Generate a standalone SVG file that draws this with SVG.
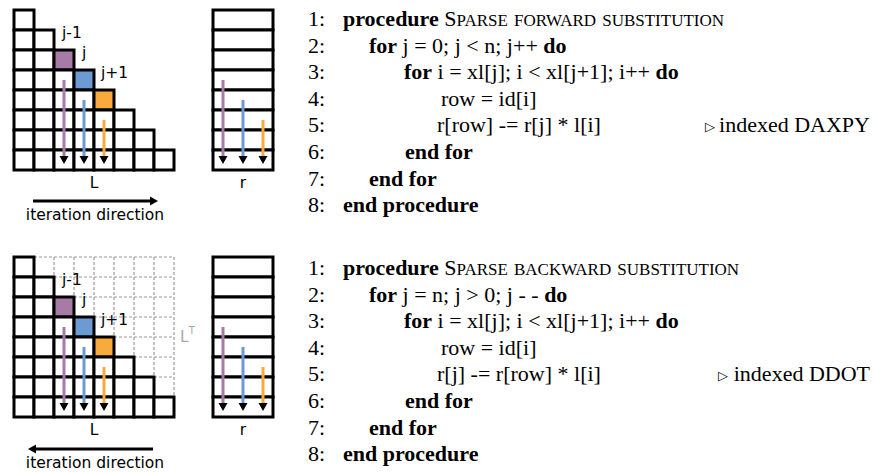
<svg xmlns="http://www.w3.org/2000/svg" width="875" height="473" viewBox="0 0 875 473">
<style>
.cell{fill:#fff;stroke:#000;stroke-width:3}
.pur{fill:#a67ba6}.blu{fill:#6b9bd2}.org{fill:#f8aa3c}
.dash{stroke:#9a9a9a;stroke-width:1.2;stroke-dasharray:3 2;fill:none}
.lbl{font-family:"DejaVu Sans",sans-serif;font-size:15.5px;fill:#000}
.alg{font-family:"Liberation Serif","Times New Roman",serif;font-size:22px;fill:#000}
.b{font-weight:bold}
.sc{font-variant:small-caps;font-size:24.4px}
.tri{font-family:"DejaVu Sans",sans-serif;font-size:13px}
.va{stroke-width:3;marker-end:url(#ah)}
.ha{stroke:#000;stroke-width:3;marker-end:url(#hh)}
</style>
<defs>
<marker id="ah" markerUnits="userSpaceOnUse" markerWidth="10" markerHeight="10" refX="0" refY="4.5" orient="auto" overflow="visible"><path d="M0,0 L8,4.5 L0,9 Z" fill="#000"/></marker>
<marker id="hh" markerUnits="userSpaceOnUse" markerWidth="10" markerHeight="10" refX="0" refY="4.5" orient="auto" overflow="visible"><path d="M0,0 L8,4.5 L0,9 Z" fill="#000"/></marker>
<g id="stairs">
<rect class="cell" x="14" y="10" width="20" height="20"/>
<rect class="cell" x="14" y="30" width="20" height="20"/><rect class="cell" x="34" y="30" width="20" height="20"/>
<rect class="cell" x="14" y="50" width="20" height="20"/><rect class="cell" x="34" y="50" width="20" height="20"/><rect class="cell pur" x="54" y="50" width="20" height="20"/>
<rect class="cell" x="14" y="70" width="20" height="20"/><rect class="cell" x="34" y="70" width="20" height="20"/><rect class="cell" x="54" y="70" width="20" height="20"/><rect class="cell blu" x="74" y="70" width="20" height="20"/>
<rect class="cell" x="14" y="90" width="20" height="20"/><rect class="cell" x="34" y="90" width="20" height="20"/><rect class="cell" x="54" y="90" width="20" height="20"/><rect class="cell" x="74" y="90" width="20" height="20"/><rect class="cell org" x="94" y="90" width="20" height="20"/>
<rect class="cell" x="14" y="110" width="20" height="20"/><rect class="cell" x="34" y="110" width="20" height="20"/><rect class="cell" x="54" y="110" width="20" height="20"/><rect class="cell" x="74" y="110" width="20" height="20"/><rect class="cell" x="94" y="110" width="20" height="20"/><rect class="cell" x="114" y="110" width="20" height="20"/>
<rect class="cell" x="14" y="130" width="20" height="20"/><rect class="cell" x="34" y="130" width="20" height="20"/><rect class="cell" x="54" y="130" width="20" height="20"/><rect class="cell" x="74" y="130" width="20" height="20"/><rect class="cell" x="94" y="130" width="20" height="20"/><rect class="cell" x="114" y="130" width="20" height="20"/><rect class="cell" x="134" y="130" width="20" height="20"/>
<rect class="cell" x="14" y="150" width="20" height="20"/><rect class="cell" x="34" y="150" width="20" height="20"/><rect class="cell" x="54" y="150" width="20" height="20"/><rect class="cell" x="74" y="150" width="20" height="20"/><rect class="cell" x="94" y="150" width="20" height="20"/><rect class="cell" x="114" y="150" width="20" height="20"/><rect class="cell" x="134" y="150" width="20" height="20"/><rect class="cell" x="154" y="150" width="20" height="20"/>
</g>
<g id="rvec">
<rect class="cell" x="213" y="10" width="60" height="20"/><rect class="cell" x="213" y="30" width="60" height="20"/><rect class="cell" x="213" y="50" width="60" height="20"/><rect class="cell" x="213" y="70" width="60" height="20"/>
<rect class="cell" x="213" y="90" width="60" height="20"/><rect class="cell" x="213" y="110" width="60" height="20"/><rect class="cell" x="213" y="130" width="60" height="20"/><rect class="cell" x="213" y="150" width="60" height="20"/>
</g>
<g id="colarrows">
<line class="va" stroke="#a67ba6" x1="64" y1="80" x2="64" y2="156"/>
<line class="va" stroke="#6b9bd2" x1="84" y1="100" x2="84" y2="156"/>
<line class="va" stroke="#f8aa3c" x1="104" y1="120" x2="104" y2="156"/>
<line class="va" stroke="#a67ba6" x1="223" y1="80" x2="223" y2="156"/>
<line class="va" stroke="#6b9bd2" x1="243" y1="100" x2="243" y2="156"/>
<line class="va" stroke="#f8aa3c" x1="263" y1="120" x2="263" y2="156"/>
</g>
</defs>

<!-- forward panel -->
<g id="L-forward">
<use href="#stairs"/>
<text class="lbl" x="62" y="38">j-1</text>
<text class="lbl" x="82" y="58">j</text>
<text class="lbl" x="101" y="78">j+1</text>
<text class="lbl" x="94" y="188" text-anchor="middle">L</text>
</g>
<g id="r-forward">
<use href="#rvec"/>
<text class="lbl" x="243" y="188" text-anchor="middle">r</text>
</g>
<g id="dir-forward">
<text class="lbl" x="95" y="220" text-anchor="middle">iteration direction</text>
</g>

<!-- backward panel -->
<g id="LT-backward">
<path class="dash" d="M14,257H174V417 M34,277H174 M54,297H174 M74,317H174 M94,337H174 M114,357H174 M134,377H174 M154,397H174 M34,257V277 M54,257V297 M74,257V317 M94,257V337 M114,257V357 M134,257V377 M154,257V397"/>
<text x="180" y="342" font-family="DejaVu Sans,sans-serif" font-size="15.5" fill="#aaa">L<tspan font-size="10" dy="-8">T</tspan></text>
</g>
<g id="L-backward">
<use href="#stairs" y="247"/>
<text class="lbl" x="62" y="285">j-1</text>
<text class="lbl" x="82" y="305">j</text>
<text class="lbl" x="101" y="325">j+1</text>
<text class="lbl" x="94" y="435" text-anchor="middle">L</text>
</g>
<g id="r-backward">
<use href="#rvec" y="247"/>
<text class="lbl" x="243" y="435" text-anchor="middle">r</text>
</g>
<g id="dir-backward">
<text class="lbl" x="95" y="468" text-anchor="middle">iteration direction</text>
</g>

<g id="connectors">
<use href="#colarrows"/>
<use href="#colarrows" y="247"/>
<line class="ha" x1="33" y1="201" x2="150" y2="201"/>
<line class="ha" x1="153" y1="449" x2="36" y2="449"/>
</g>

<!-- algorithm forward -->
<g id="algo-forward" class="alg">
<text x="308" y="26">1:</text><text x="343" y="26"><tspan class="b">procedure</tspan> S<tspan class="sc">parse forward substitution</tspan></text>
<text x="308" y="52.6">2:</text><text x="369" y="52.6"><tspan class="b">for</tspan> j = 0; j &lt; n; j++ <tspan class="b">do</tspan></text>
<text x="308" y="79.2">3:</text><text x="404" y="79.2"><tspan class="b">for</tspan> i = xl[j]; i &lt; xl[j+1]; i++ <tspan class="b">do</tspan></text>
<text x="308" y="105.8">4:</text><text x="441" y="105.8">row = id[i]</text>
<text x="308" y="132.4">5:</text><text x="437" y="132.4">r[row] -= r[j] * l[i]</text>
<text class="tri" x="705" y="131.4">▷</text><text x="870" y="132.4" text-anchor="end">indexed DAXPY</text>
<text x="308" y="159">6:</text><text x="405" y="159" class="b">end for</text>
<text x="308" y="185.6">7:</text><text x="369" y="185.6" class="b">end for</text>
<text x="308" y="212.2">8:</text><text x="343" y="212.2" class="b">end procedure</text>
</g>

<!-- algorithm backward -->
<g id="algo-backward" class="alg">
<text x="308" y="275">1:</text><text x="343" y="275"><tspan class="b">procedure</tspan> S<tspan class="sc">parse backward substitution</tspan></text>
<text x="308" y="301.6">2:</text><text x="369" y="301.6"><tspan class="b">for</tspan> j = n; j &gt; 0; j - - <tspan class="b">do</tspan></text>
<text x="308" y="328.2">3:</text><text x="404" y="328.2"><tspan class="b">for</tspan> i = xl[j]; i &lt; xl[j+1]; i++ <tspan class="b">do</tspan></text>
<text x="308" y="354.8">4:</text><text x="441" y="354.8">row = id[i]</text>
<text x="308" y="381.4">5:</text><text x="437" y="381.4">r[j] -= r[row] * l[i]</text>
<text class="tri" x="718" y="380.4">▷</text><text x="870" y="381.4" text-anchor="end">indexed DDOT</text>
<text x="308" y="408">6:</text><text x="405" y="408" class="b">end for</text>
<text x="308" y="434.6">7:</text><text x="369" y="434.6" class="b">end for</text>
<text x="308" y="461.2">8:</text><text x="343" y="461.2" class="b">end procedure</text>
</g>
</svg>
